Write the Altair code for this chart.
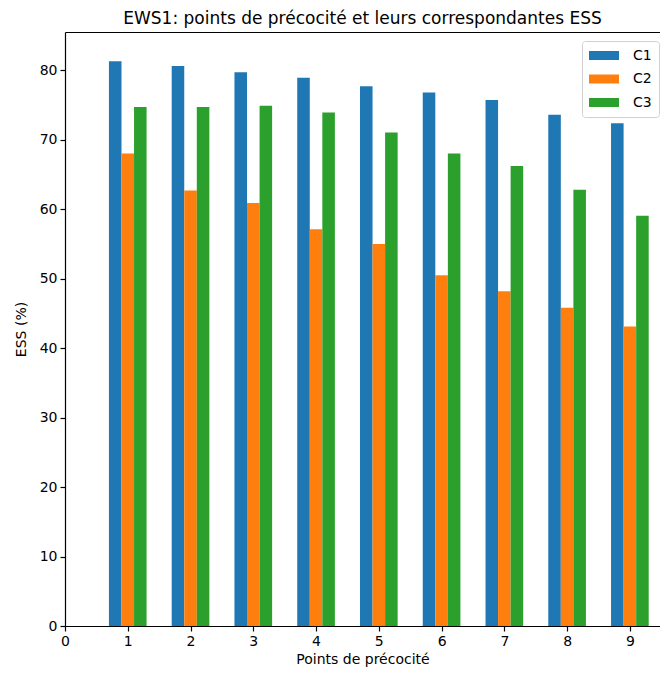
import altair as alt
import pandas as pd

points = [1, 2, 3, 4, 5, 6, 7, 8, 9]
c1 = [81.3, 80.6, 79.7, 78.9, 77.7, 76.8, 75.7, 73.6, 72.35]
c2 = [68.0, 62.7, 60.9, 57.1, 55.0, 50.5, 48.2, 45.8, 43.1]
c3 = [74.7, 74.7, 74.9, 73.9, 71.05, 68.0, 66.2, 62.8, 59.05]
series = ["C1", "C2", "C3"]
colors = ["#1f77b4", "#ff7f0e", "#2ca02c"]
x_ticks = [0, 1, 2, 3, 4, 5, 6, 7, 8, 9]

rows = []
for k, (name, vals) in enumerate(zip(series, [c1, c2, c3])):
    for p, v in zip(points, vals):
        rows.append({"point": p, "serie": name, "k": k, "ess": v})
df = pd.DataFrame(rows)

W, H = 595, 594
xscale = alt.Scale(domain=[0, 9.48], nice=False, zero=False, padding=0)
yscale = alt.Scale(domain=[0, 85.5], nice=False, padding=0)

bars = alt.Chart(df).transform_calculate(
    x0="datum.point - 0.3 + datum.k * 0.2",
    x1="datum.point - 0.1 + datum.k * 0.2",
).mark_bar(strokeWidth=0).encode(
    x=alt.X("x0:Q", scale=xscale,
            axis=alt.Axis(values=x_ticks, title="Points de précocité", grid=False,
                          tickSize=5, labelPadding=3, titlePadding=4,
                          domainColor="black", tickColor="black", labelColor="black",
                          titleColor="black", labelFontSize=14, titleFontSize=14,
                          titleFontWeight="normal", labelFont="DejaVu Sans",
                          titleFont="DejaVu Sans", format="d", labelFlush=False)),
    x2="x1:Q",
    y=alt.Y("ess:Q", scale=yscale,
            axis=alt.Axis(values=[0, 10, 20, 30, 40, 50, 60, 70, 80], title="ESS (%)",
                          grid=False, tickSize=5, labelPadding=3, titlePadding=11,
                          domainColor="black", tickColor="black", labelColor="black",
                          titleColor="black", labelFontSize=14, titleFontSize=14,
                          titleFontWeight="normal", labelFont="DejaVu Sans",
                          titleFont="DejaVu Sans", labelFlush=False)),
    y2=alt.datum(0),
    color=alt.Color("serie:N", scale=alt.Scale(domain=series, range=colors),
                    legend=alt.Legend(
                        title=None, orient="none", legendX=517, legendY=9,
                        symbolType="M-1,-0.6L3,-0.6L3,0.6L-1,0.6Z", symbolSize=225,
                        symbolStrokeWidth=0, symbolOpacity=1,
                        labelFontSize=14, labelFont="DejaVu Sans", labelColor="black",
                        labelOffset=29, rowPadding=8.5, padding=7,
                        strokeColor="#d0d0d0", fillColor="white", cornerRadius=3)),
)

top_spine = alt.Chart(df).mark_bar(opacity=0).encode(
    x=alt.X("point:Q", scale=xscale,
            axis=alt.Axis(orient="top", labels=False, ticks=False, title=None,
                          grid=False, domainColor="black", domainWidth=1.2)),
    y=alt.Y("ess:Q", scale=yscale),
    y2=alt.datum(0),
)

chart = alt.layer(bars, top_spine).resolve_axis(x="independent").properties(
    width=W, height=H,
    autosize=alt.AutoSizeParams(type="none"),
    padding={"left": 57, "top": 24, "right": 0, "bottom": 43},
    title=alt.Title("EWS1: points de précocité et leurs correspondantes ESS",
                    fontSize=17, font="DejaVu Sans", fontWeight="normal",
                    color="black", anchor="middle", offset=4),
).configure_view(stroke=None).configure_axis(domainWidth=1.2, tickWidth=1.2)

chart.save("out.html", embed_options={"renderer": "svg", "actions": False})
